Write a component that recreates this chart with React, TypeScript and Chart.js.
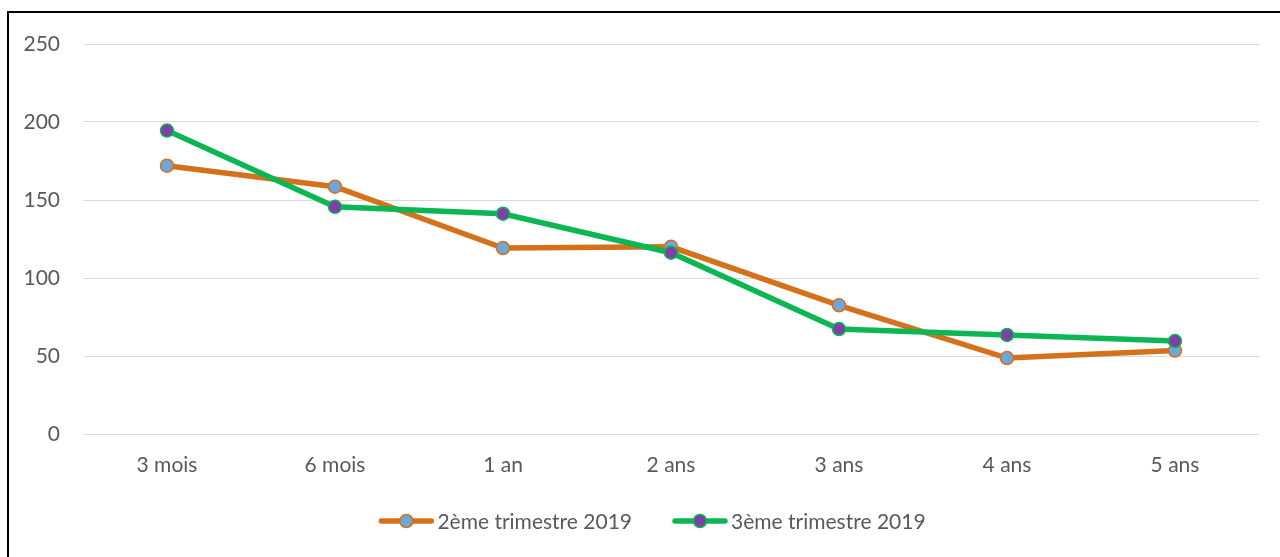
import React, { useEffect, useRef } from "react";
import { Chart, registerables } from "chart.js";

Chart.register(...registerables);

const categories = ["3 mois", "6 mois", "1 an", "2 ans", "3 ans", "4 ans", "5 ans"];
const seriesQ2Label = "2ème trimestre 2019";
const seriesQ3Label = "3ème trimestre 2019";
const seriesQ2 = [172, 158.5, 119.2, 120, 82.5, 48.7, 53.5];
const seriesQ3 = [194.5, 145.6, 141.2, 116.2, 67.3, 63.5, 59.6];
const yTicks = [0, 50, 100, 150, 200, 250];

const ORANGE = "#D4711B";
const BLUE_PT = "#6DA7DC";
const GREEN = "#0BB653";
const PURPLE = "#7E3FA6";
const TEXT = "#595959";
const FONT = "Lato";
const FONT_SIZE = 21;

const LEGEND_CENTER_X = 652;
const LEGEND_Y = 521;
const ICON_W = 56;
const ICON_GAP = 3;
const ITEM_GAP = 40;

const customLegend = {
  id: "customLegend",
  afterDraw(chart: any) {
    const ctx = chart.ctx as CanvasRenderingContext2D;
    const ds = chart.data.datasets;
    ctx.save();
    ctx.font = `${FONT_SIZE}px ${FONT}`;
    const widths = ds.map((d: any) => ctx.measureText(d.label).width);
    const total =
      widths.reduce((a: number, w: number) => a + ICON_W + ICON_GAP + w, 0) + ITEM_GAP * (ds.length - 1);
    let x = LEGEND_CENTER_X - total / 2;
    ds.forEach((d: any, i: number) => {
      const y = LEGEND_Y;
      ctx.strokeStyle = d.borderColor;
      ctx.lineWidth = 5.5;
      ctx.lineCap = "round";
      ctx.beginPath();
      ctx.moveTo(x + 3, y);
      ctx.lineTo(x + ICON_W - 3, y);
      ctx.stroke();
      ctx.beginPath();
      ctx.arc(x + ICON_W / 2, y, 6.5, 0, Math.PI * 2);
      ctx.fillStyle = d.pointBackgroundColor;
      ctx.fill();
      ctx.lineWidth = 1.5;
      ctx.strokeStyle = d.pointBorderColor;
      ctx.stroke();
      ctx.fillStyle = TEXT;
      ctx.textAlign = "left";
      ctx.textBaseline = "middle";
      ctx.fillText(d.label, x + ICON_W + ICON_GAP, y + 1);
      x += ICON_W + ICON_GAP + widths[i] + ITEM_GAP;
    });
    ctx.restore();
  },
};

export default function App() {
  const ref = useRef<HTMLCanvasElement | null>(null);
  useEffect(() => {
    if (!ref.current) return;
    const chart = new Chart(ref.current, {
      type: "line",
      data: {
        labels: categories,
        datasets: [
          {
            label: seriesQ2Label,
            data: seriesQ2,
            borderColor: ORANGE,
            backgroundColor: BLUE_PT,
            borderWidth: 5.5,
            pointRadius: 6.5,
            pointBorderWidth: 1.5,
            pointBackgroundColor: BLUE_PT,
            pointBorderColor: ORANGE,
            tension: 0,
            order: 1,
          },
          {
            label: seriesQ3Label,
            data: seriesQ3,
            borderColor: GREEN,
            backgroundColor: PURPLE,
            borderWidth: 5.5,
            pointRadius: 6.5,
            pointBorderWidth: 1.5,
            pointBackgroundColor: PURPLE,
            pointBorderColor: GREEN,
            tension: 0,
            order: 0,
          },
        ],
      },
      plugins: [customLegend],
      options: {
        responsive: false,
        animation: false,
        layout: { padding: { left: 0, right: 21, top: 44, bottom: 57 } },
        plugins: {
          tooltip: { enabled: false },
          legend: { display: false },
        },
        scales: {
          x: {
            offset: true,
            grid: { display: false, drawTicks: false },
            border: { display: false },
            ticks: { color: TEXT, font: { family: FONT, size: FONT_SIZE }, padding: 19 },
            afterFit: (s: any) => {
              s.height = 66;
            },
          },
          y: {
            min: 0,
            max: 250,
            afterBuildTicks: (s: any) => {
              s.ticks = yTicks.map((v) => ({ value: v }));
            },
            grid: { color: "#D9D9D9", lineWidth: 1, drawTicks: false },
            border: { display: false },
            ticks: { color: TEXT, font: { family: FONT, size: FONT_SIZE }, padding: 23 },
            afterFit: (s: any) => {
              s.width = 83;
            },
          },
        },
      },
    });
    return () => chart.destroy();
  }, []);
  return (
    <div>
      <canvas
        ref={ref}
        width={1280}
        height={557}
        style={{ position: "fixed", left: 0, top: 0, width: 1280, height: 557, display: "block" }}
      />
      <div
        style={{
          position: "fixed",
          left: 7,
          top: 11,
          width: 1400,
          height: 700,
          border: "2px solid #000",
          pointerEvents: "none",
        }}
      />
    </div>
  );
}
